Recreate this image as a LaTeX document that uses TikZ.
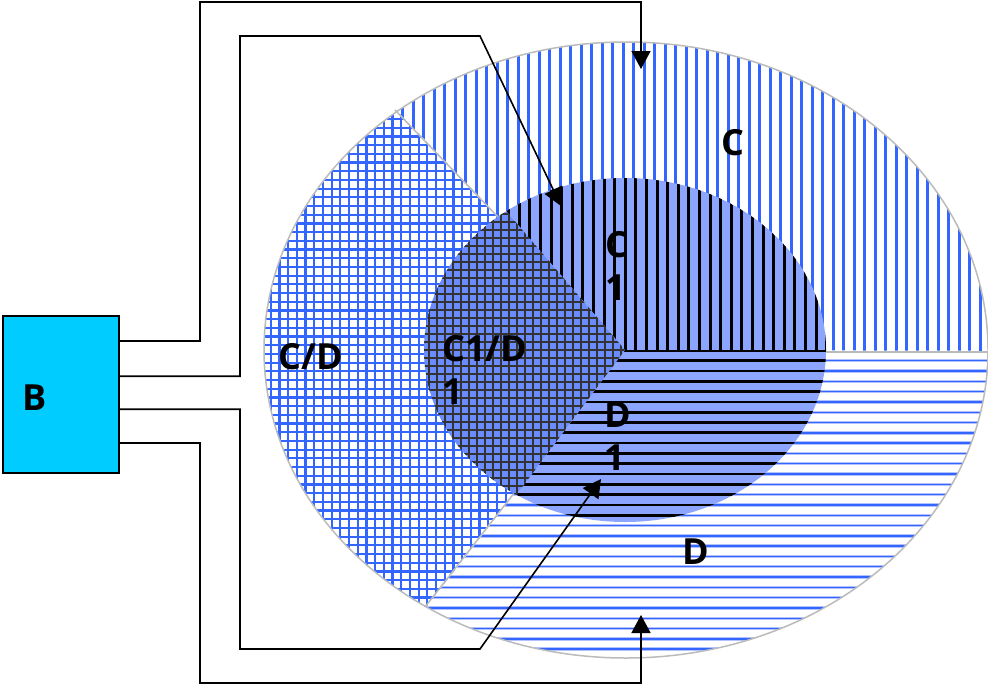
\documentclass[tikz,border=0pt]{standalone}
\usepackage{fontspec}
\setmainfont{Open Sans}
\usetikzlibrary{arrows.meta,calc}
\definecolor{pblue}{HTML}{3366FF}
\definecolor{plight}{HTML}{B3C2FF}
\definecolor{innerfill}{HTML}{8CA6FF}
\definecolor{gridfill}{HTML}{6A8CFF}
\definecolor{gridline}{HTML}{333333}
\definecolor{boxfill}{HTML}{00CCFF}
\definecolor{outlinegray}{HTML}{BBBBBB}
\begin{document}
\begin{tikzpicture}[x=1pt,y=-1pt,
  wire/.style={draw=black,line width=1.6pt},
  ar/.style={-{Triangle[length=18pt,width=19pt]}},
  lbl/.style={font=\bfseries\fontsize{36}{43}\selectfont,inner sep=0pt,text=black},
  lbltwo/.style={lbl,align=left,anchor=north west},
  divider/.style={draw=outlinegray,line width=1.5pt},
  boxstyle/.style={draw=black,line width=1.6pt,fill=boxfill,minimum width=116pt,minimum height=157pt,inner sep=0pt}]
\useasboundingbox (0,0) rectangle (988,686);
\fill[white] (0,0) rectangle (988,686);

% ---------- outer sectors ----------
% C (vertical lines, spacing 10.5)
\begin{scope}
  \clip (626,350) ellipse [x radius=362,y radius=308];
  \clip (626,350) -- (166,-130) -- (1100,-130) -- (1100,351) -- cycle;
  \fill[white] (250,30) rectangle (1000,360);
  \foreach \i in {0,...,70} \draw[pblue,line width=2.8pt] ({266.2+10.5*\i},30) -- ({266.2+10.5*\i},360);
\end{scope}
% D (horizontal lines, spacing 10.3)
\begin{scope}
  \clip (626,350) ellipse [x radius=362,y radius=308];
  \clip (626,351) -- (1100,351) -- (1100,900) -- (226,864) -- cycle;
  \fill[white] (250,340) rectangle (1000,670);
  \foreach \i in {0,...,32} {
    \draw[plight,line width=3.4pt] (250,{350.4+10.3*\i}) -- (1000,{350.4+10.3*\i});
    \draw[pblue,line width=1.4pt] (250,{350.4+10.3*\i}) -- (1000,{350.4+10.3*\i});
  }
\end{scope}
% C/D (grid, spacing 8.7)
\begin{scope}
  \clip (626,350) ellipse [x radius=362,y radius=308];
  \clip (626,350) -- (166,-130) -- (-100,-130) -- (-100,864) -- (226,864) -- cycle;
  \fill[white] (250,30) rectangle (700,670);
  \foreach \i in {0,...,52} \draw[pblue,line width=2.2pt] ({262+8.7*\i},30) -- ({262+8.7*\i},670);
  \foreach \i in {0,...,73} \draw[pblue,line width=2.2pt] (250,{32+8.7*\i}) -- (700,{32+8.7*\i});
\end{scope}
% outline and dividers
\draw[outlinegray,line width=1.5pt] (626,350) ellipse [x radius=362,y radius=308];
\coordinate (O) at (626,350);
\coordinate (ul) at (395,110);
\coordinate (ll) at (425,607);
\coordinate (rr) at (988,352);
\draw[divider] (ul) -- (O);
\draw[divider] (ll) -- (O);
\draw[divider] (O |- rr) -- (rr);

% ---------- inner sectors ----------
% C1 (vertical black lines, spacing 10.6)
\begin{scope}
  \clip (625,350) ellipse [x radius=201,y radius=172];
  \clip (625,350) -- (271,-64) -- (900,-64) -- (900,350) -- cycle;
  \fill[innerfill] (420,170) rectangle (830,355);
  \foreach \i in {0,...,40} \draw[black,line width=3pt] ({413.3+10.6*\i},170) -- ({413.3+10.6*\i},355);
\end{scope}
% D1 (horizontal black lines, spacing 10.3)
\begin{scope}
  \clip (625,350) ellipse [x radius=201,y radius=172];
  \clip (625,350) -- (900,350) -- (900,800) -- (279,811) -- cycle;
  \fill[innerfill] (420,345) rectangle (830,530);
  \foreach \i in {0,...,18} \draw[black,line width=2.7pt] (420,{350.4+10.3*\i}) -- (830,{350.4+10.3*\i});
\end{scope}
% C1/D1 (dark grid, spacing 8)
\begin{scope}
  \clip (625,350) ellipse [x radius=201,y radius=172];
  \clip (625,350) -- (271,-64) -- (0,-64) -- (0,811) -- (279,811) -- cycle;
  \fill[gridfill] (420,170) rectangle (630,530);
  \foreach \i in {0,...,26} \draw[gridline,line width=2.4pt] ({421+8*\i},170) -- ({421+8*\i},530);
  \foreach \i in {0,...,45} \draw[gridline,line width=2.4pt] (420,{174+8*\i}) -- (630,{174+8*\i});
\end{scope}

% ---------- labels ----------
\node[lbl] (lC) at (733,143) {C};
\node[lbl] (lCD) at (311,357) {C/D};
\node[lbl] (lD) at (696,552) {D};
\node[lbltwo] (lC1) at (605,231) {C\\1};
\node[lbltwo] (lC1D1) at (442,335) {C1/D\\1};
\node[lbltwo] (lD1) at (604,402) {D\\1};

% ---------- box and wires ----------
\node[boxstyle] (B) at (61,394.5) {};
\node[lbl] (lB) at (35,398) {B};
\coordinate (s1) at ([yshift=-26pt]B.north east);
\coordinate (s2) at ([yshift=-61pt]B.north east);
\coordinate (s3) at ([yshift=-94pt]B.north east);
\coordinate (s4) at ([yshift=-128pt]B.north east);
\coordinate (t1) at (641,69);
\coordinate (t2) at (561,206);
\coordinate (t3) at (601,479);
\coordinate (t4) at (641,615);
\coordinate (k2) at (480,36);
\coordinate (k3) at (480,649);
\draw[wire,ar] (s1) -| (200,2) -| (t1);
\draw[wire,ar] (s2) -| (240,36) -- (k2) -- (t2);
\draw[wire,ar] (s3) -| (240,649) -- (k3) -- (t3);
\draw[wire,ar] (s4) -| (200,683) -| (t4);
\end{tikzpicture}
\end{document}
